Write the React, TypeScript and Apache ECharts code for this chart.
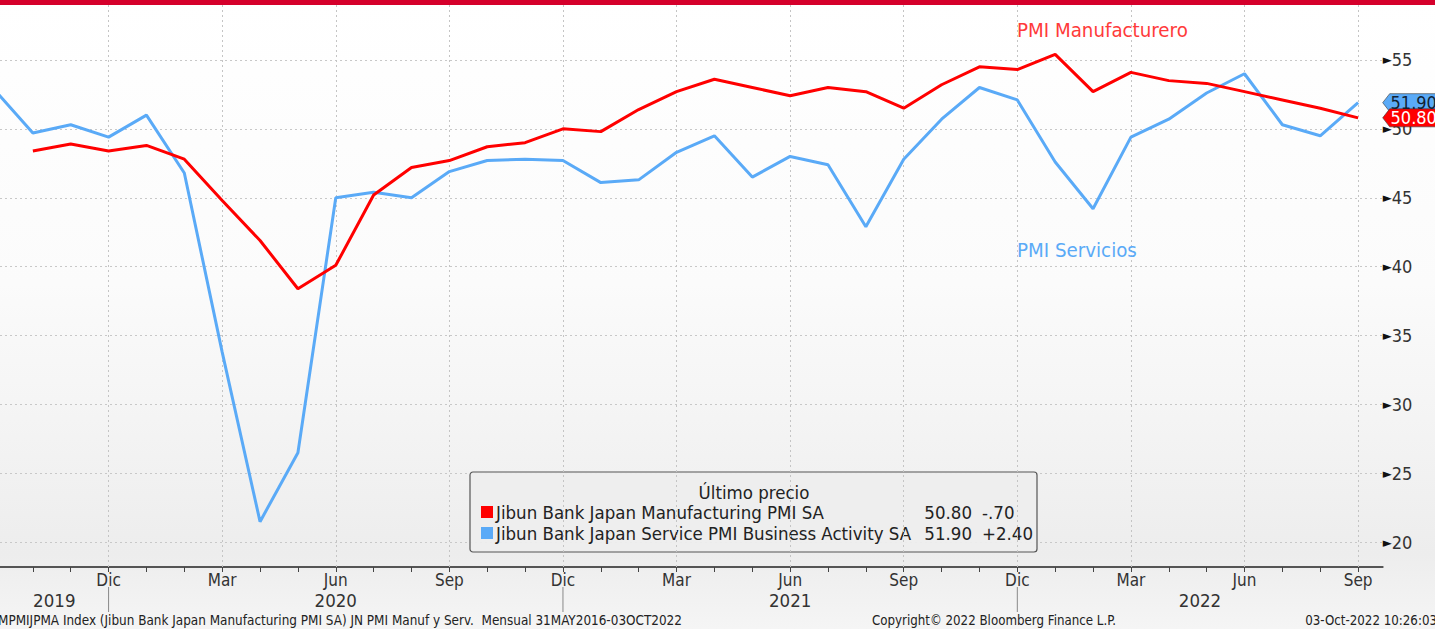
import React, { useEffect, useRef } from "react";
import * as echarts from "echarts";

// Months from Sep 2019 (index 0) to Sep 2022 (index 36)
const MONTHS = [
  "Sep", "Oct", "Nov", "Dic",
  "Ene", "Feb", "Mar", "Abr", "May", "Jun", "Jul", "Ago", "Sep", "Oct", "Nov", "Dic",
  "Ene", "Feb", "Mar", "Abr", "May", "Jun", "Jul", "Ago", "Sep", "Oct", "Nov", "Dic",
  "Ene", "Feb", "Mar", "Abr", "May", "Jun", "Jul", "Ago", "Sep",
];

const MANUFACTURING: (number | null)[] = [
  null, 48.4, 48.9, 48.4,
  48.8, 47.8, 44.8, 41.9, 38.4, 40.1, 45.2, 47.2, 47.7, 48.7, 49.0, 50.0,
  49.8, 51.4, 52.7, 53.6, 53.0, 52.4, 53.0, 52.7, 51.5, 53.2, 54.5, 54.3,
  55.4, 52.7, 54.1, 53.5, 53.3, 52.7, 52.1, 51.5, 50.8,
];

const SERVICES: (number | null)[] = [
  52.8, 49.7, 50.3, 49.4,
  51.0, 46.8, 33.8, 21.5, 26.5, 45.0, 45.4, 45.0, 46.9, 47.7, 47.8, 47.7,
  46.1, 46.3, 48.3, 49.5, 46.5, 48.0, 47.4, 42.9, 47.8, 50.7, 53.0, 52.1,
  47.6, 44.2, 49.4, 50.7, 52.6, 54.0, 50.3, 49.5, 51.9,
];

const QUARTER_IDX = [3, 6, 9, 12, 15, 18, 21, 24, 27, 30, 33, 36];
const YEAR_SPANS = [
  { label: "2019", from: null as number | null, to: 3 },
  { label: "2020", from: 3, to: 15 },
  { label: "2021", from: 15, to: 27 },
  { label: "2022", from: 27, to: null as number | null },
];
const YEAR_BREAKS = [3, 15, 27];

const LEGEND_TITLE = "Último precio";
const LEGEND_ROWS = [
  { name: "Jibun Bank Japan Manufacturing PMI SA", last: "50.80", chg: "-.70", color: "#ff0000" },
  { name: "Jibun Bank Japan Service PMI Business Activity SA", last: "51.90", chg: "+2.40", color: "#5aaaf7" },
];

const FOOT_LEFT = "MPMIJPMA Index (Jibun Bank Japan Manufacturing PMI SA) JN PMI Manuf y Serv.  Mensual 31MAY2016-03OCT2022";
const FOOT_MID = "Copyright\u00A9 2022 Bloomberg Finance L.P.";
const FOOT_RIGHT = "03-Oct-2022 10:26:03";

const RED = "#ff0000";
const BLUE = "#5aaaf7";
const FONT = "'DejaVu Sans Condensed', 'DejaVu Sans', sans-serif";

const X_MAX = 36.65;
const Y_MIN = 18.21;
const Y_MAX = 59.06;
const W = 1443;
const H = 629;

const tagPath = "path://M0,9 L7,0 L60,0 L60,18 L7,18 Z";

export default function App() {
  const ref = useRef<HTMLDivElement>(null);
  useEffect(() => {
    document.body.style.margin = "0";
    document.body.style.overflow = "hidden";
    const chart = echarts.init(ref.current!, undefined, { renderer: "svg" });
    const lastIdx = MONTHS.length - 1;
    const manuData = MANUFACTURING.map((v, i) => [i, v]);
    const servData = SERVICES.map((v, i) => [i, v]);

    const legendX = 478;
    const legendY = 472;

    chart.setOption({
      animation: false,
      backgroundColor: {
        type: "linear", x: 0, y: 0, x2: 0, y2: 1,
        colorStops: [
          { offset: 0, color: "#ffffff" },
          { offset: 0.45, color: "#fbfbfb" },
          { offset: 0.88, color: "#ededed" },
          { offset: 1, color: "#f5f5f5" },
        ],
      },
      textStyle: { fontFamily: FONT },
      grid: { left: 0, right: 52.3, top: 4, bottom: 62, containLabel: false },
      xAxis: {
        type: "value",
        min: 0,
        max: X_MAX,
        interval: 1,
        axisLine: { show: true, lineStyle: { color: "#555", width: 2 } },
        axisTick: { show: true, length: 5, lineStyle: { color: "#444", width: 1 } },
        axisLabel: {
          showMaxLabel: false,
          margin: 4,
          fontSize: 17,
          color: "#333",
          fontFamily: FONT,
          formatter: (v: number) =>
            Number.isInteger(v) && v > 0 && v % 3 === 0 ? MONTHS[v] : "",
        },
        splitLine: { show: false },
      },
      yAxis: {
        type: "value",
        position: "right",
        min: Y_MIN,
        max: Y_MAX,
        splitNumber: 8,
        axisLine: { show: true, lineStyle: { color: "#555", width: 2 } },
        axisTick: { show: false },
        minorTick: { show: true, splitNumber: 2, length: 5, lineStyle: { color: "#444" } },
        axisLabel: {
          showMinLabel: false,
          showMaxLabel: false,
          margin: 0,
          formatter: (v: number) =>
            Number.isInteger(v) && v % 5 === 0 ? `{t|\u25BA}{v|${v}}` : "",
          rich: {
            t: { fontSize: 13, color: "#111", fontFamily: FONT },
            v: { fontSize: 18, color: "#333", fontFamily: FONT },
          },
        },
        splitLine: { show: true, lineStyle: { color: "#c8c8c8", type: [2, 3], width: 1 } },
      },
      series: [
        {
          name: "Services",
          type: "line",
          data: servData,
          showSymbol: false,
          symbol: "none",
          lineStyle: { color: BLUE, width: 3 },
          z: 3,
          markLine: {
            silent: true,
            symbol: "none",
            label: { show: false },
            lineStyle: { color: "#c4c4c4", type: [2, 3], width: 1 },
            data: QUARTER_IDX.map((q) => ({ xAxis: q })),
            z: 1,
          },
          markPoint: {
            symbol: tagPath,
            symbolSize: [60, 18],
            symbolKeepAspect: false,
            symbolOffset: [30, 0],
            itemStyle: { color: BLUE, borderColor: "#333", borderWidth: 0.5 },
            label: {
              show: true,
              position: "inside",
              offset: [1, 0],
              color: "#123",
              fontSize: 18,
              fontFamily: FONT,
              formatter: () => LEGEND_ROWS[1].last,
            },
            data: [{ coord: [X_MAX, SERVICES[lastIdx]] }],
          },
        },
        {
          name: "Manufacturing",
          type: "line",
          data: manuData,
          showSymbol: false,
          symbol: "none",
          lineStyle: { color: RED, width: 3 },
          z: 4,
          markPoint: {
            symbol: tagPath,
            symbolSize: [60, 18],
            symbolKeepAspect: false,
            symbolOffset: [30, 0],
            itemStyle: { color: RED, borderColor: "#333", borderWidth: 0.5 },
            label: {
              show: true,
              position: "inside",
              offset: [1, 0],
              color: "#fff",
              fontSize: 18,
              fontFamily: FONT,
              formatter: () => LEGEND_ROWS[0].last,
            },
            data: [{ coord: [X_MAX, MANUFACTURING[lastIdx]] }],
          },
        },
      ],
    });

    const px = (v: number) => chart.convertToPixel({ xAxisIndex: 0 }, v) as number;
    const leftEdge = 8;
    const rightEdge = px(X_MAX);

    const yearTexts = YEAR_SPANS.map((s) => {
      const a = s.from === null ? leftEdge : px(s.from);
      const b = s.to === null ? rightEdge : px(s.to);
      return {
        type: "text",
        x: (a + b) / 2,
        y: 600,
        style: {
          text: s.label, fontSize: 18.5, fill: "#333", fontFamily: FONT,
          align: "center", verticalAlign: "middle",
        },
        z: 50,
      };
    });
    const yearLines = YEAR_BREAKS.map((b) => ({
      type: "line",
      shape: { x1: px(b), y1: 587, x2: px(b), y2: 612 },
      style: { stroke: "#888", lineWidth: 1 },
      z: 50,
    }));

    const LF = 18.5;
    chart.setOption({
      graphic: [
        { type: "rect", shape: { x: 0, y: 0, width: W, height: 5 }, style: { fill: "#d5002b" }, z: 100 },
        {
          type: "text", x: 1025, y: 30,
          style: { text: "PMI Manufacturero", fill: "#ff3a3a", fontSize: 20.3, fontFamily: FONT, verticalAlign: "middle" },
          z: 60,
        },
        {
          type: "text", x: 1025, y: 250,
          style: { text: "PMI Servicios", fill: "#5aaaf7", fontSize: 20.3, fontFamily: FONT, verticalAlign: "middle" },
          z: 60,
        },
        {
          type: "group", x: legendX, y: legendY, z: 70,
          children: [
            {
              type: "rect", shape: { x: 0, y: 0, width: 567, height: 80, r: 3 },
              style: { fill: "rgba(238,238,238,0.92)", stroke: "#555", lineWidth: 1.2 },
            },
            {
              type: "text", x: 284, y: 20,
              style: { text: LEGEND_TITLE, fontSize: LF, fill: "#222", fontFamily: FONT, align: "center", verticalAlign: "middle" },
            },
            ...LEGEND_ROWS.flatMap((r, i) => [
              { type: "rect", shape: { x: 11, y: 34 + i * 21, width: 12, height: 12 }, style: { fill: r.color } },
              {
                type: "text", x: 26, y: 40 + i * 21,
                style: { text: r.name, fontSize: LF, fill: "#222", fontFamily: FONT, verticalAlign: "middle" },
              },
              {
                type: "text", x: 502, y: 40 + i * 21,
                style: { text: r.last, fontSize: LF, fill: "#222", fontFamily: FONT, align: "right", verticalAlign: "middle" },
              },
              {
                type: "text", x: 512, y: 40 + i * 21,
                style: { text: r.chg, fontSize: LF, fill: "#222", fontFamily: FONT, verticalAlign: "middle" },
              },
            ]),
          ],
        },
        ...yearLines,
        ...yearTexts,
        {
          type: "text", x: 6, y: 620,
          style: { text: FOOT_LEFT, fontSize: 13.4, fill: "#222", fontFamily: FONT, verticalAlign: "middle" },
          z: 50,
        },
        {
          type: "text", x: 1002, y: 620,
          style: { text: FOOT_MID, fontSize: 13.2, fill: "#222", fontFamily: FONT, align: "center", verticalAlign: "middle" },
          z: 50,
        },
        {
          type: "text", x: 1445, y: 620,
          style: { text: FOOT_RIGHT, fontSize: 13.2, fill: "#222", fontFamily: FONT, align: "right", verticalAlign: "middle" },
          z: 50,
        },
      ],
    });

    return () => chart.dispose();
  }, []);

  return (
    <div
      ref={ref}
      style={{ position: "absolute", left: -8, top: 0, width: W, height: H }}
    />
  );
}
